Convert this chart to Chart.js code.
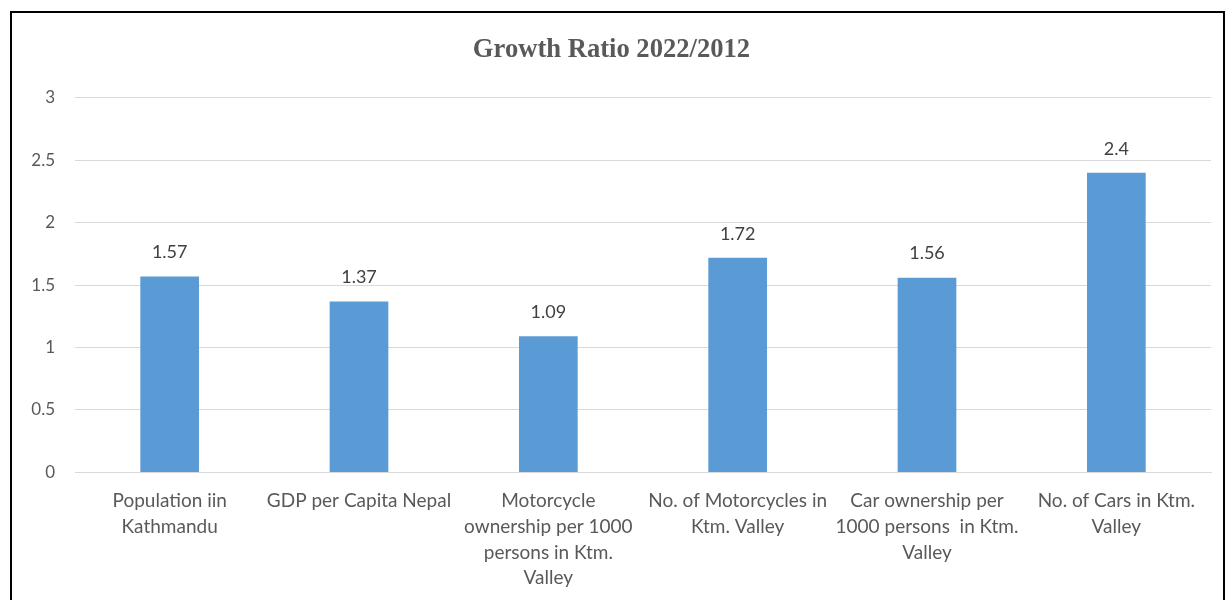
<!DOCTYPE html>
<html>
<head>
<meta charset="utf-8">
<script src="https://cdn.jsdelivr.net/npm/chart.js@4.4.0/dist/chart.umd.min.js"></script>
<style>
  body { margin: 0; background: #fff; }
  #box {
    position: absolute; left: 10px; top: 11px;
    width: 1211px; height: 600px;
    border: 2px solid #000; background: #fff;
  }
</style>
</head>
<body>
<div id="box"><canvas id="growthChart"></canvas></div>
<script>
var categories = [
  ["Population iin", "Kathmandu"],
  "GDP per Capita Nepal",
  ["Motorcycle", "ownership per 1000", "persons in Ktm.", "Valley"],
  ["No. of Motorcycles in", "Ktm. Valley"],
  ["Car ownership per", "1000 persons  in Ktm.", "Valley"],
  ["No. of Cars in Ktm.", "Valley"]
];
var ratios = [1.57, 1.37, 1.09, 1.72, 1.56, 2.4];
var yTicks = [0, 0.5, 1, 1.5, 2, 2.5, 3];

var textGray = "#595959";

// writes the value over each bar
var barValues = {
  id: "barValues",
  afterDatasetsDraw: function (chart) {
    var ctx = chart.ctx;
    var meta = chart.getDatasetMeta(0);
    ctx.save();
    ctx.font = "18px Lato";
    ctx.fillStyle = "#404040";
    ctx.textAlign = "center";
    ctx.textBaseline = "middle";
    meta.data.forEach(function (bar, i) {
      ctx.fillText(String(ratios[i]), bar.x, bar.y - 24);
    });
    ctx.restore();
  }
};

var ctx = document.getElementById("growthChart").getContext("2d");
var myChart = new Chart(ctx, {
  type: "bar",
  data: {
    labels: categories,
    datasets: [
      {
        label: "Growth Ratio",
        data: ratios,
        backgroundColor: "#5B9BD5",
        barPercentage: 0.31,
        categoryPercentage: 1.0
      }
    ]
  },
  options: {
    responsive: true,
    maintainAspectRatio: false,
    animation: false,
    layout: { padding: { left: 0, right: 12, top: 0, bottom: 14 } },
    plugins: {
      legend: { display: false },
      tooltip: { enabled: false },
      title: {
        display: true,
        text: "Growth Ratio 2022/2012",
        color: textGray,
        font: { family: "Liberation Serif", size: 26.6, weight: "bold" },
        padding: { top: 21, bottom: 32 }
      }
    },
    scales: {
      y: {
        min: 0,
        max: 3,
        afterBuildTicks: function (scale) {
          scale.ticks = yTicks.map(function (v) { return { value: v }; });
        },
        afterFit: function (scale) { scale.width = 63; },
        ticks: {
          color: textGray,
          font: { family: "Lato", size: 17 },
          padding: 20,
          callback: function (v) { return String(v); }
        },
        grid: { color: "#d9d9d9", drawTicks: false },
        border: { display: false }
      },
      x: {
        ticks: {
          color: textGray,
          font: { family: "Lato", size: 19, lineHeight: 1.35 },
          maxRotation: 0,
          autoSkip: false,
          padding: 8
        },
        grid: { display: false },
        border: { color: "#d9d9d9" }
      }
    }
  },
  plugins: [barValues]
});
</script>
</body>
</html>
